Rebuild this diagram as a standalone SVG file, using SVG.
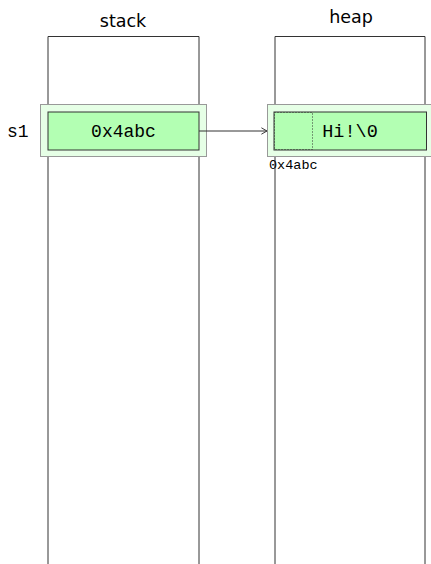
<svg xmlns="http://www.w3.org/2000/svg" width="431" height="564" viewBox="0 0 431 564">
<style>
.col{fill:none;stroke:#333;stroke-width:1}
.outer{fill:#e6ffe6;stroke:#999;stroke-width:1}
.inner{fill:#b3ffb3;stroke:#333;stroke-width:1}
.mono{font-family:"Liberation Mono","DejaVu Sans Mono",monospace;fill:#000}
.title{font-family:"DejaVu Sans","Liberation Sans",sans-serif;font-size:17.5px;fill:#000;text-anchor:middle}
.dot{fill:none;stroke:#333;stroke-width:1;stroke-dasharray:1 2}
</style>
<defs>
<marker id="arr" viewBox="0 0 10 10" refX="9" refY="5" markerWidth="8" markerHeight="8" markerUnits="userSpaceOnUse" orient="auto">
<path d="M2,1 L9,5 L2,9" fill="none" stroke="#333" stroke-width="1.2"/>
</marker>
</defs>
<g id="stack">
<text class="title" x="123" y="26.5">stack</text>
<path class="col" d="M48,564 V36.5 H199 V564"/>
</g>
<g id="heap">
<text class="title" x="351" y="23">heap</text>
<path class="col" d="M275,564 V36.5 H425 V564"/>
</g>
<g id="s1">
<text class="mono" x="7" y="136.5" font-size="18">s1</text>
<rect class="outer" x="40.5" y="104.5" width="166" height="52"/>
<rect class="inner" x="48" y="112" width="151" height="38"/>
<text class="mono" x="123.5" y="136.5" font-size="18" text-anchor="middle">0x4abc</text>
</g>
<g id="str">
<rect class="outer" x="267.5" y="104.5" width="166" height="52"/>
<rect class="inner" x="274" y="112" width="152.5" height="38"/>
<rect class="dot" x="274.5" y="112.5" width="38" height="37"/>
<text class="mono" x="350" y="136.5" font-size="18.5" text-anchor="middle">Hi!\0</text>
<text class="mono" x="269" y="169" font-size="13.5">0x4abc</text>
</g>
<g id="connectors">
<line x1="199" y1="131" x2="267" y2="131" stroke="#333" stroke-width="1" marker-end="url(#arr)"/>
</g>
</svg>
